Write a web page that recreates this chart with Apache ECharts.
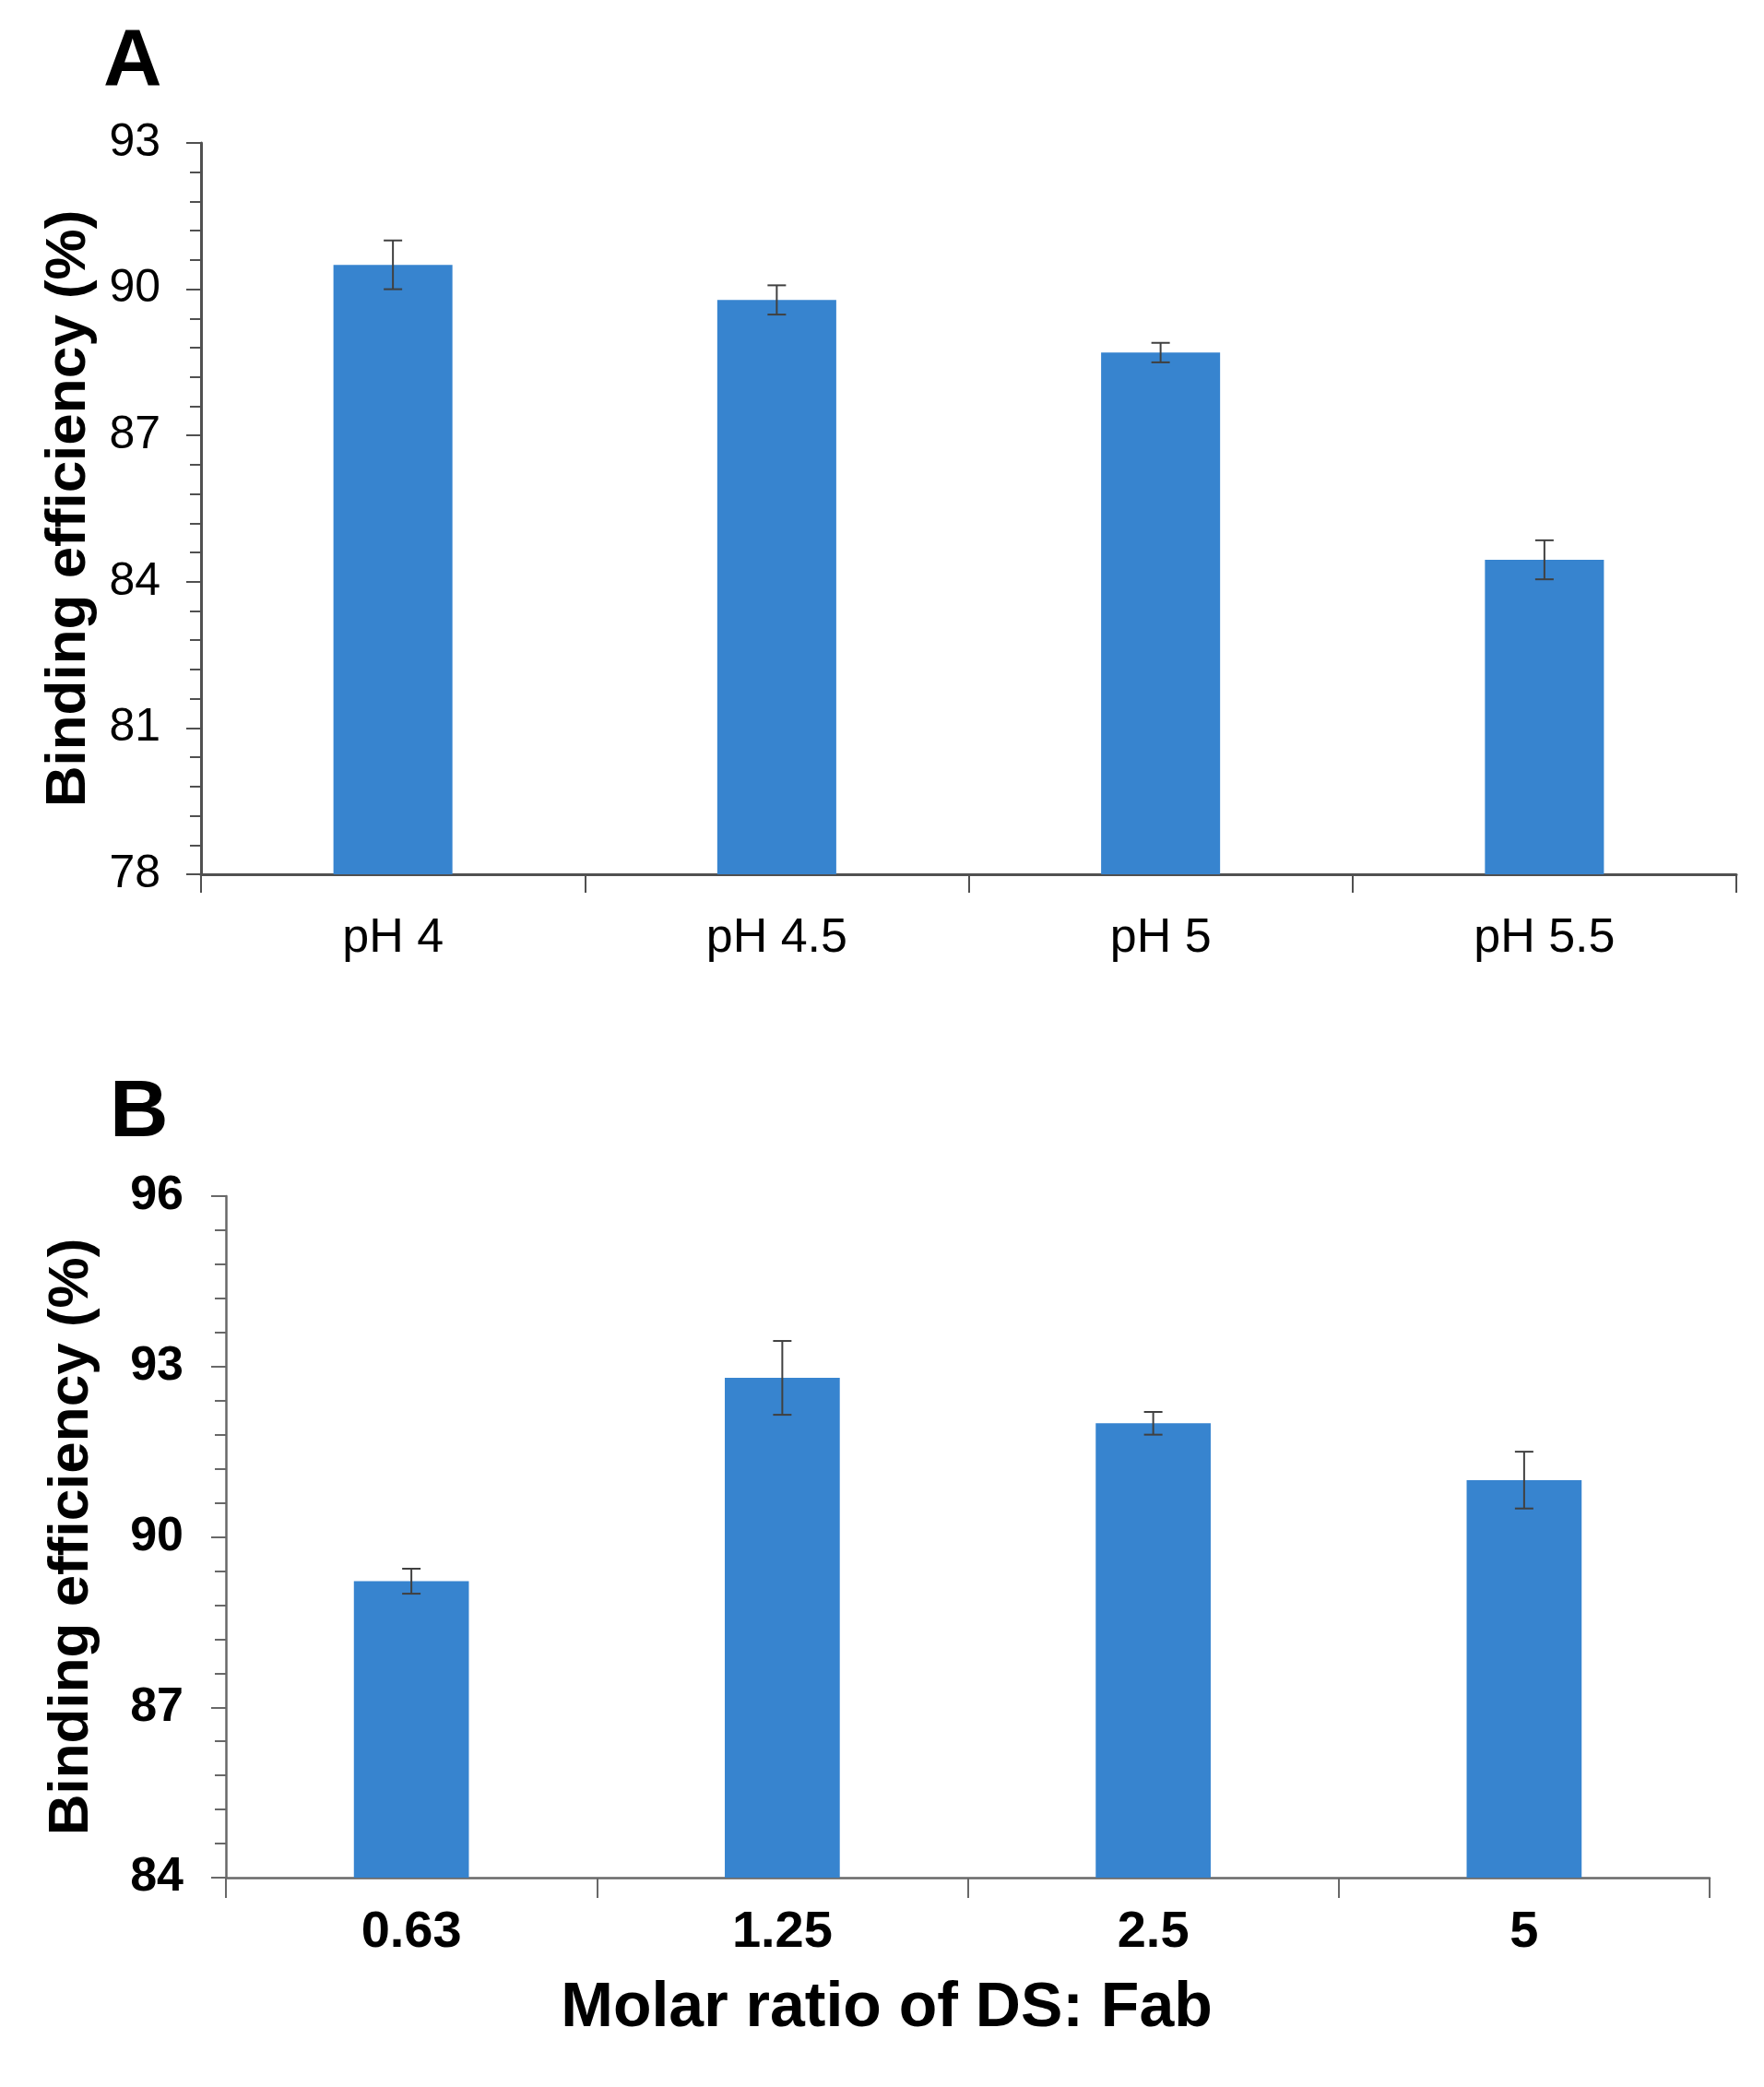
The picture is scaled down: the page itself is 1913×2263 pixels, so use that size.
<!DOCTYPE html>
<html>
<head>
<meta charset="utf-8">
<script src="https://cdn.jsdelivr.net/npm/echarts@6/dist/echarts.min.js"></script>
<style>
html,body{margin:0;padding:0;background:#fff;}
#chart{width:1913px;height:2263px;}
</style>
</head>
<body>
<div id="chart"></div>
<script>
// Panel A data
const categoriesA = ['pH 4', 'pH 4.5', 'pH 5', 'pH 5.5'];
const valuesA = [90.5, 89.78, 88.7, 84.45];
const errorsA = [0.5, 0.3, 0.2, 0.4];
const yTicksA = { min: 78, max: 93, interval: 3 };

// Panel B data
const categoriesB = ['0.63', '1.25', '2.5', '5'];
const valuesB = [89.22, 92.8, 92.0, 91.0];
const errorsB = [0.22, 0.65, 0.2, 0.5];
const yTicksB = { min: 84, max: 96, interval: 3 };

const FONT = '"Liberation Sans", Arial, sans-serif';
const BAR_COLOR = '#3784cf';

function errRender(params, api) {
  const x = api.value(0), v = api.value(1), e = api.value(2);
  const hi = api.coord([x, v + e]);
  const lo = api.coord([x, v - e]);
  const cw = 10;
  const st = { stroke: '#404040', lineWidth: 2 };
  return {
    type: 'group',
    children: [
      { type: 'line', shape: { x1: hi[0], y1: hi[1], x2: lo[0], y2: lo[1] }, style: st },
      { type: 'line', shape: { x1: hi[0] - cw, y1: hi[1], x2: hi[0] + cw, y2: hi[1] }, style: st },
      { type: 'line', shape: { x1: lo[0] - cw, y1: lo[1], x2: lo[0] + cw, y2: lo[1] }, style: st }
    ]
  };
}

function errData(vals, errs) {
  return vals.map((v, i) => [i, v, errs[i]]);
}

const axisColorA = '#505050';
const axisColorB = '#686868';

const chart = echarts.init(document.getElementById('chart'));
chart.setOption({
  backgroundColor: '#ffffff',
  animation: false,
  title: [
    { text: 'A', left: 107, top: 19, textStyle: { fontFamily: FONT, fontSize: 88, fontWeight: 'bold', color: '#000' } },
    { text: 'B', left: 114, top: 1159, textStyle: { fontFamily: FONT, fontSize: 88, fontWeight: 'bold', color: '#000' } }
  ],
  grid: [
    { left: 218, top: 155, width: 1665, height: 793 },
    { left: 245, top: 1297, width: 1609, height: 739 }
  ],
  xAxis: [
    {
      type: 'category', gridIndex: 0, data: categoriesA, boundaryGap: true,
      axisLine: { lineStyle: { color: axisColorA, width: 3 } },
      axisTick: { show: true, length: 20, alignWithLabel: false, lineStyle: { color: axisColorA, width: 2 } },
      axisLabel: { margin: 44, fontFamily: FONT, fontSize: 52, color: '#000' }
    },
    {
      type: 'category', gridIndex: 1, data: categoriesB, boundaryGap: true,
      name: 'Molar ratio of DS: Fab', nameLocation: 'middle', nameGap: 108,
      nameTextStyle: { fontFamily: FONT, fontSize: 68, fontWeight: 'bold', color: '#000', padding: [0, 176, 0, 0] },
      axisLine: { lineStyle: { color: axisColorB, width: 2.5 } },
      axisTick: { show: true, length: 22, alignWithLabel: false, lineStyle: { color: axisColorB, width: 2 } },
      axisLabel: { margin: 32, fontFamily: FONT, fontSize: 56, fontWeight: 'bold', color: '#000' }
    }
  ],
  yAxis: [
    {
      type: 'value', gridIndex: 0, min: yTicksA.min, max: yTicksA.max, interval: yTicksA.interval,
      name: 'Binding efficiency (%)', nameLocation: 'middle', nameGap: 112,
      nameTextStyle: { fontFamily: FONT, fontSize: 62, fontWeight: 'bold', color: '#000' },
      splitLine: { show: false },
      axisLine: { show: true, lineStyle: { color: axisColorA, width: 3 } },
      axisTick: { show: true, length: 16, lineStyle: { color: axisColorA, width: 2 } },
      minorTick: { show: true, splitNumber: 5, length: 12, lineStyle: { color: axisColorA, width: 2 } },
      axisLabel: { margin: 44, fontFamily: FONT, fontSize: 50, color: '#000' }
    },
    {
      type: 'value', gridIndex: 1, min: yTicksB.min, max: yTicksB.max, interval: yTicksB.interval,
      name: 'Binding efficiency (%)', nameLocation: 'middle', nameGap: 136,
      nameTextStyle: { fontFamily: FONT, fontSize: 62, fontWeight: 'bold', color: '#000' },
      splitLine: { show: false },
      axisLine: { show: true, lineStyle: { color: axisColorB, width: 2.5 } },
      axisTick: { show: true, length: 16, lineStyle: { color: axisColorB, width: 2 } },
      minorTick: { show: true, splitNumber: 5, length: 12, lineStyle: { color: axisColorB, width: 2 } },
      axisLabel: { margin: 46, fontFamily: FONT, fontSize: 52, fontWeight: 'bold', color: '#000' }
    }
  ],
  series: [
    { type: 'bar', xAxisIndex: 0, yAxisIndex: 0, data: valuesA, barWidth: '31%', itemStyle: { color: BAR_COLOR }, z: 2 },
    { type: 'custom', xAxisIndex: 0, yAxisIndex: 0, renderItem: errRender, data: errData(valuesA, errorsA), encode: { x: 0, y: 1 }, z: 3 },
    { type: 'bar', xAxisIndex: 1, yAxisIndex: 1, data: valuesB, barWidth: '31%', itemStyle: { color: BAR_COLOR }, z: 2 },
    { type: 'custom', xAxisIndex: 1, yAxisIndex: 1, renderItem: errRender, data: errData(valuesB, errorsB), encode: { x: 0, y: 1 }, z: 3 }
  ]
});
</script>
</body>
</html>
